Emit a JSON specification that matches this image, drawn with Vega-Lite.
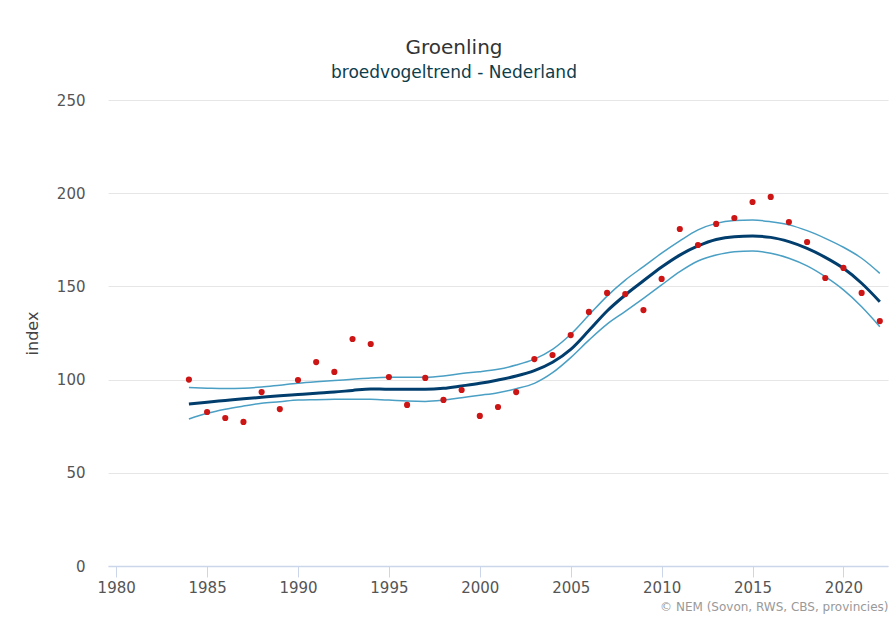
{
  "$schema": "https://vega.github.io/schema/vega-lite/v6.json",
  "autosize": {"type": "none"},
  "padding": {"left": 108, "top": 100, "right": 7, "bottom": 64},
  "width": 780,
  "height": 466,
  "background": "white",
  "config": {"view": {"stroke": null}},
  "title": {
    "text": "Groenling",
    "subtitle": "broedvogeltrend - Nederland",
    "anchor": "middle",
    "frame": "group",
    "dx": -44,
    "offset": 12,
    "font": "DejaVu Sans",
    "fontSize": 20,
    "fontWeight": "normal",
    "color": "#333333",
    "subtitleFont": "DejaVu Sans",
    "subtitleFontSize": 17,
    "subtitleColor": "#0e3d4c",
    "subtitlePadding": 7
  },
  "data": {
    "values": [
      {"year": 1984, "index": 100.0, "trend": 86.9, "lower": 78.9, "upper": 95.7},
      {"year": 1985, "index": 82.6, "trend": 87.9, "lower": 81.9, "upper": 95.4},
      {"year": 1986, "index": 79.4, "trend": 88.8, "lower": 84.1, "upper": 95.2},
      {"year": 1987, "index": 77.3, "trend": 89.7, "lower": 85.8, "upper": 95.4},
      {"year": 1988, "index": 93.3, "trend": 90.5, "lower": 87.3, "upper": 96.0},
      {"year": 1989, "index": 84.2, "trend": 91.3, "lower": 88.1, "upper": 97.0},
      {"year": 1990, "index": 99.8, "trend": 92.0, "lower": 89.0, "upper": 98.0},
      {"year": 1991, "index": 109.4, "trend": 92.7, "lower": 89.2, "upper": 98.8},
      {"year": 1992, "index": 104.1, "trend": 93.3, "lower": 89.4, "upper": 99.5},
      {"year": 1993, "index": 121.8, "trend": 94.2, "lower": 89.5, "upper": 100.2},
      {"year": 1994, "index": 119.1, "trend": 95.0, "lower": 89.4, "upper": 100.9},
      {"year": 1995, "index": 101.4, "trend": 94.8, "lower": 89.0, "upper": 101.2},
      {"year": 1996, "index": 86.4, "trend": 94.8, "lower": 88.5, "upper": 101.2},
      {"year": 1997, "index": 100.9, "trend": 94.8, "lower": 88.3, "upper": 101.2},
      {"year": 1998, "index": 89.1, "trend": 95.3, "lower": 89.0, "upper": 101.9},
      {"year": 1999, "index": 94.4, "trend": 96.6, "lower": 90.3, "upper": 103.3},
      {"year": 2000, "index": 80.5, "trend": 98.0, "lower": 91.6, "upper": 104.2},
      {"year": 2001, "index": 85.3, "trend": 99.8, "lower": 93.0, "upper": 105.5},
      {"year": 2002, "index": 93.3, "trend": 101.9, "lower": 95.1, "upper": 107.8},
      {"year": 2003, "index": 111.0, "trend": 104.8, "lower": 98.0, "upper": 111.0},
      {"year": 2004, "index": 113.2, "trend": 109.3, "lower": 103.7, "upper": 116.2},
      {"year": 2005, "index": 123.9, "trend": 116.2, "lower": 111.8, "upper": 124.3},
      {"year": 2006, "index": 136.3, "trend": 126.3, "lower": 121.2, "upper": 134.6},
      {"year": 2007, "index": 146.5, "trend": 136.8, "lower": 129.8, "upper": 144.8},
      {"year": 2008, "index": 145.9, "trend": 145.4, "lower": 136.6, "upper": 153.4},
      {"year": 2009, "index": 137.3, "trend": 153.0, "lower": 143.6, "upper": 160.6},
      {"year": 2010, "index": 154.0, "trend": 160.4, "lower": 150.8, "upper": 167.8},
      {"year": 2011, "index": 180.8, "trend": 166.8, "lower": 157.9, "upper": 174.4},
      {"year": 2012, "index": 172.2, "trend": 171.7, "lower": 163.6, "upper": 180.3},
      {"year": 2013, "index": 183.5, "trend": 175.2, "lower": 166.8, "upper": 183.8},
      {"year": 2014, "index": 186.7, "trend": 176.7, "lower": 168.6, "upper": 185.3},
      {"year": 2015, "index": 195.3, "trend": 177.0, "lower": 169.0, "upper": 185.6},
      {"year": 2016, "index": 198.0, "trend": 176.3, "lower": 167.8, "upper": 184.7},
      {"year": 2017, "index": 184.5, "trend": 174.0, "lower": 165.1, "upper": 183.0},
      {"year": 2018, "index": 173.8, "trend": 170.4, "lower": 161.0, "upper": 179.9},
      {"year": 2019, "index": 154.5, "trend": 165.6, "lower": 155.2, "upper": 175.8},
      {"year": 2020, "index": 159.9, "trend": 159.7, "lower": 148.1, "upper": 171.0},
      {"year": 2021, "index": 146.5, "trend": 151.7, "lower": 139.1, "upper": 165.1},
      {"year": 2022, "index": 131.4, "trend": 141.8, "lower": 128.4, "upper": 157.0}
    ]
  },
  "encoding": {
    "x": {
      "field": "year",
      "type": "quantitative",
      "scale": {"domain": [1979.55, 2022.45], "nice": false, "zero": false},
      "axis": {
        "values": [1980, 1985, 1990, 1995, 2000, 2005, 2010, 2015, 2020],
        "format": "d",
        "title": "© NEM (Sovon, RWS, CBS, provincies)",
        "titleAnchor": "end",
        "titleAlign": "right",
        "titleFont": "DejaVu Sans",
        "titleFontSize": 12,
        "titleFontWeight": "normal",
        "titleColor": "#999999",
        "titlePadding": 6,
        "grid": false,
        "domainColor": "#ccd6eb",
        "domainWidth": 1.5,
        "tickColor": "#ccd6eb",
        "tickSize": 11,
        "labelFont": "DejaVu Sans",
        "labelFontSize": 15,
        "labelColor": "#555555",
        "labelPadding": 3
      }
    }
  },
  "layer": [
    {
      "mark": {"type": "line", "color": "#4a9fc4", "strokeWidth": 1.5, "interpolate": "monotone"},
      "encoding": {
        "y": {
          "field": "upper",
          "type": "quantitative",
          "scale": {"domain": [0, 250], "nice": false},
          "axis": {
            "values": [0, 50, 100, 150, 200, 250],
            "title": "index",
            "titleFont": "DejaVu Sans",
            "titleFontSize": 16,
            "titleFontWeight": "normal",
            "titleColor": "#444444",
            "titlePadding": 16,
            "domain": false,
            "ticks": false,
            "gridColor": "#e6e6e6",
            "gridWidth": 1,
            "labelFont": "DejaVu Sans",
            "labelFontSize": 15,
            "labelColor": "#555555",
            "labelPadding": 23
          }
        }
      }
    },
    {
      "mark": {"type": "line", "color": "#4a9fc4", "strokeWidth": 1.5, "interpolate": "monotone"},
      "encoding": {"y": {"field": "lower", "type": "quantitative"}}
    },
    {
      "mark": {"type": "line", "color": "#023e6d", "strokeWidth": 3, "interpolate": "monotone"},
      "encoding": {"y": {"field": "trend", "type": "quantitative"}}
    },
    {
      "mark": {"type": "circle", "color": "#cc1515", "size": 38, "opacity": 1},
      "encoding": {"y": {"field": "index", "type": "quantitative"}}
    }
  ]
}
